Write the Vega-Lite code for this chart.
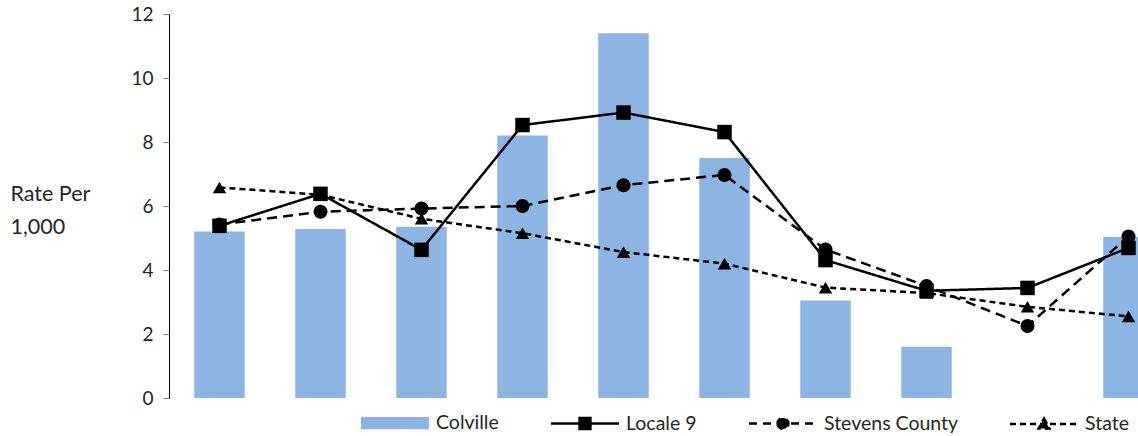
{
  "$schema": "https://vega.github.io/schema/vega-lite/v6.json",
  "width": 1010,
  "height": 384,
  "autosize": {"type": "none"},
  "padding": {"left": 169, "top": 14, "right": 0, "bottom": 38},
  "config": {"view": {"stroke": null}, "font": "Lato"},
  "data": {
    "values": [
      {"period": 1, "series": "Colville", "rate": 5.2},
      {"period": 2, "series": "Colville", "rate": 5.28},
      {"period": 3, "series": "Colville", "rate": 5.35},
      {"period": 4, "series": "Colville", "rate": 8.2},
      {"period": 5, "series": "Colville", "rate": 11.4},
      {"period": 6, "series": "Colville", "rate": 7.5},
      {"period": 7, "series": "Colville", "rate": 3.05},
      {"period": 8, "series": "Colville", "rate": 1.6},
      {"period": 9, "series": "Colville", "rate": null},
      {"period": 10, "series": "Colville", "rate": 5.03},
      {"period": 1, "series": "Locale 9", "rate": 5.38},
      {"period": 2, "series": "Locale 9", "rate": 6.38},
      {"period": 3, "series": "Locale 9", "rate": 4.63},
      {"period": 4, "series": "Locale 9", "rate": 8.53},
      {"period": 5, "series": "Locale 9", "rate": 8.92},
      {"period": 6, "series": "Locale 9", "rate": 8.31},
      {"period": 7, "series": "Locale 9", "rate": 4.31},
      {"period": 8, "series": "Locale 9", "rate": 3.35},
      {"period": 9, "series": "Locale 9", "rate": 3.44},
      {"period": 10, "series": "Locale 9", "rate": 4.69},
      {"period": 1, "series": "Stevens County", "rate": 5.42},
      {"period": 2, "series": "Stevens County", "rate": 5.82},
      {"period": 3, "series": "Stevens County", "rate": 5.92},
      {"period": 4, "series": "Stevens County", "rate": 6.0},
      {"period": 5, "series": "Stevens County", "rate": 6.65},
      {"period": 6, "series": "Stevens County", "rate": 6.97},
      {"period": 7, "series": "Stevens County", "rate": 4.64},
      {"period": 8, "series": "Stevens County", "rate": 3.5},
      {"period": 9, "series": "Stevens County", "rate": 2.25},
      {"period": 10, "series": "Stevens County", "rate": 5.05},
      {"period": 1, "series": "State", "rate": 6.58},
      {"period": 2, "series": "State", "rate": 6.35},
      {"period": 3, "series": "State", "rate": 5.6},
      {"period": 4, "series": "State", "rate": 5.15},
      {"period": 5, "series": "State", "rate": 4.56},
      {"period": 6, "series": "State", "rate": 4.2},
      {"period": 7, "series": "State", "rate": 3.45},
      {"period": 8, "series": "State", "rate": 3.28},
      {"period": 9, "series": "State", "rate": 2.85},
      {"period": 10, "series": "State", "rate": 2.55}
    ]
  },
  "encoding": {
    "x": {"field": "period", "type": "ordinal", "axis": null, "scale": {"paddingInner": 0.5, "paddingOuter": 0.25}}
  },
  "layer": [
    {
      "transform": [{"filter": "datum.series === 'Colville' && datum.rate != null"}],
      "mark": {"type": "bar"},
      "encoding": {
        "y": {
          "field": "rate", "type": "quantitative",
          "scale": {"domain": [0, 12]},
          "axis": {
            "values": [0, 2, 4, 6, 8, 10, 12],
            "grid": false,
            "title": ["Rate Per", "1,000"],
            "titleAngle": 0,
            "titleAlign": "left",
            "titleBaseline": "alphabetic",
            "titleX": -159,
            "titleY": 186,
            "titleLineHeight": 33,
            "titleFontSize": 21.5,
            "titleFontWeight": "normal",
            "titleColor": "#262626",
            "labelFontSize": 19,
            "labelColor": "#262626",
            "labelPadding": 10,
            "domainColor": "black",
            "domainWidth": 1,
            "tickColor": "#808080",
            "tickSize": 6
          }
        },
        "color": {
          "field": "series", "type": "nominal",
          "scale": {"domain": ["Colville", "Locale 9", "Stevens County", "State"], "range": ["#8EB4E3", "black", "black", "black"]},
          "legend": {
            "title": null,
            "orient": "none",
            "legendX": 190.5,
            "legendY": 373.5,
            "direction": "horizontal",
            "padding": 0,
            "symbolSize": 4624,
            "symbolStrokeWidth": 2.5,
            "labelFontSize": 19.5,
            "labelColor": "#262626",
            "labelOffset": 5.5,
            "labelLimit": 300,
            "columnPadding": 46,
            "encode": {
              "symbols": {
                "update": {
                  "size": {"value": 4624},
                  "strokeWidth": {"value": 2.5},
                  "shape": {"signal": "datum.value === 'Colville' ? 'M-1,-0.18H1V0.18H-1Z' : datum.value === 'Locale 9' ? 'M-1,0H1M-0.16,-0.16H0.16V0.16H-0.16Z' : datum.value === 'Stevens County' ? 'M-1,0H1M-0.16,0A0.16,0.16 0 1,0 0.16,0A0.16,0.16 0 1,0 -0.16,0Z' : 'M-1,0H1M0,-0.16L0.16,0.13L-0.16,0.13Z'"},
                  "fill": {"signal": "datum.value === 'Colville' ? '#8EB4E3' : 'black'"},
                  "stroke": {"signal": "datum.value === 'Colville' ? 'transparent' : 'black'"},
                  "strokeDash": {"signal": "datum.value === 'Stevens County' ? [8, 6] : datum.value === 'State' ? [6, 4] : [1, 0]"},
                  "opacity": {"value": 1}
                }
              }
            }
          }
        }
      }
    },
    {
      "transform": [{"filter": "datum.series !== 'Colville'"}],
      "mark": {"type": "line", "strokeWidth": 2.5, "color": "black"},
      "encoding": {
        "y": {"field": "rate", "type": "quantitative"},
        "detail": {"field": "series", "type": "nominal"},
        "strokeDash": {
          "field": "series", "type": "nominal", "legend": null,
          "scale": {"domain": ["Locale 9", "Stevens County", "State"], "range": [[1, 0], [10, 6], [6, 4]]}
        }
      }
    },
    {
      "transform": [{"filter": "datum.series === 'Locale 9'"}],
      "mark": {"type": "point", "filled": true, "opacity": 1, "size": 210, "shape": "square", "color": "black"},
      "encoding": {"y": {"field": "rate", "type": "quantitative"}}
    },
    {
      "transform": [{"filter": "datum.series === 'Stevens County'"}],
      "mark": {"type": "point", "filled": true, "opacity": 1, "size": 196, "shape": "circle", "color": "black"},
      "encoding": {"y": {"field": "rate", "type": "quantitative"}}
    },
    {
      "transform": [{"filter": "datum.series === 'State'"}],
      "mark": {"type": "point", "filled": true, "opacity": 1, "size": 180, "shape": "triangle-up", "color": "black"},
      "encoding": {"y": {"field": "rate", "type": "quantitative"}}
    }
  ]
}
